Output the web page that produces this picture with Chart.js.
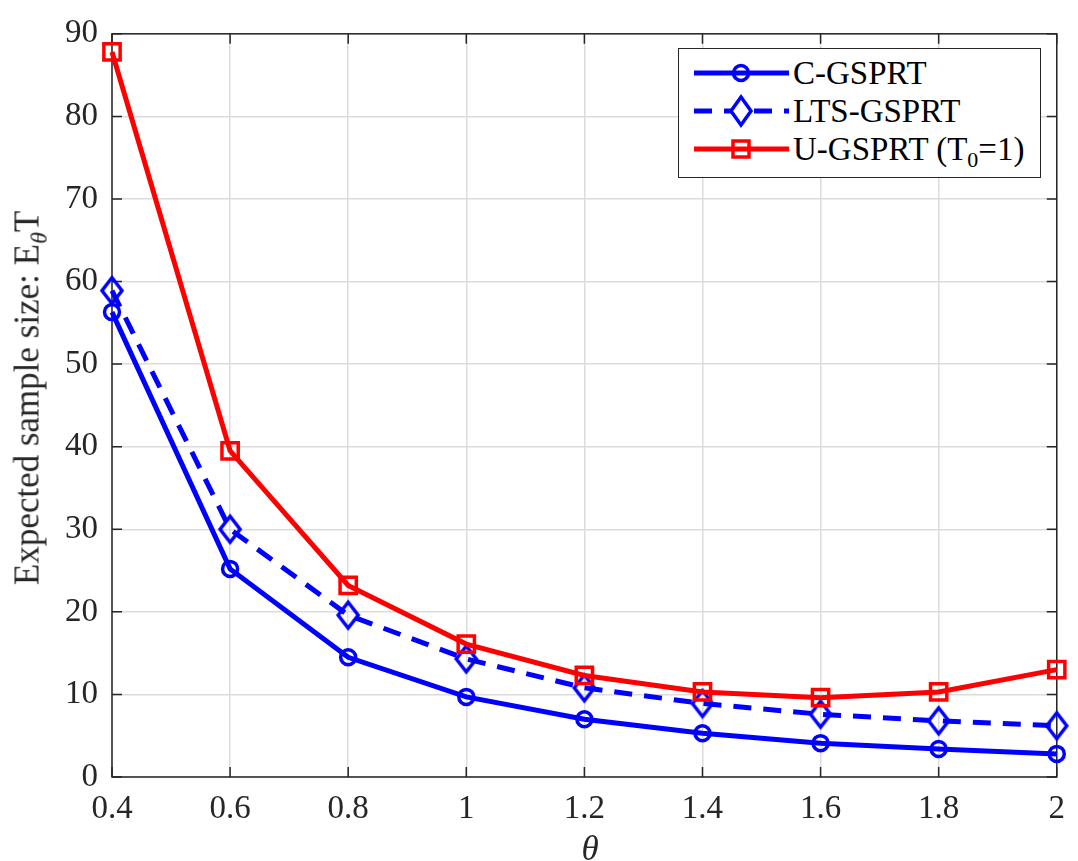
<!DOCTYPE html>
<html>
<head>
<meta charset="utf-8">
<script src="https://cdn.jsdelivr.net/npm/chart.js@4/dist/chart.umd.min.js"></script>
<style>
  html, body { margin: 0; padding: 0; background: #fff; }
  #wrap { position: relative; width: 1078px; height: 861px; overflow: hidden; font-family: "Liberation Serif", "DejaVu Serif", serif; color: #262626; }
  #c { position: absolute; left: 0; top: 0; }
  #ytitle { position: absolute; left: 27px; top: 398px; transform: translate(-50%, -50%) rotate(-90deg); white-space: nowrap; font-size: 35px; line-height: 1; }
  #ytitle sub { font-size: 24px; font-style: italic; vertical-align: -0.35em; line-height: 0; }
  #xtitle { position: absolute; left: 590px; top: 848px; transform: translate(-50%, -50%); font-size: 35px; font-style: italic; line-height: 1; }
  #legend { position: absolute; left: 678px; top: 48px; width: 361px; height: 128px; border: 1.5px solid #262626; background: #fff; }
  .row { position: absolute; left: 0; height: 36px; width: 361px; }
  .row svg { position: absolute; left: 12px; top: 0; }
  .row span { position: absolute; left: 114px; top: 0; font-size: 33px; line-height: 36px; white-space: nowrap; color: #000; }
  .row sub { font-size: 22px; vertical-align: -0.3em; line-height: 0; }
</style>
</head>
<body>
<div id="wrap">
  <canvas id="c" width="1078" height="861"></canvas>
  <div id="ytitle">Expected sample size: E<sub>θ</sub>T</div>
  <div id="xtitle">θ</div>
  <div id="legend">
    <div class="row" style="top:6px">
      <svg width="100" height="36"><line x1="3" y1="18" x2="98" y2="18" stroke="#0000ff" stroke-width="5"/><circle cx="50" cy="18" r="7.5" fill="none" stroke="#0000ff" stroke-width="3.5"/></svg>
      <span>C-GSPRT</span>
    </div>
    <div class="row" style="top:44px">
      <svg width="100" height="36"><line x1="3" y1="18" x2="98" y2="18" stroke="#0000ff" stroke-width="5" stroke-dasharray="18 12"/><polygon points="50,4 60,18 50,32 40,18" fill="#fff" stroke="#0000ff" stroke-width="3.5"/></svg>
      <span>LTS-GSPRT</span>
    </div>
    <div class="row" style="top:82px">
      <svg width="100" height="36"><line x1="3" y1="18" x2="98" y2="18" stroke="#ff0000" stroke-width="5"/><rect x="42" y="10" width="16" height="16" fill="none" stroke="#ff0000" stroke-width="3.5"/></svg>
      <span>U-GSPRT (T<sub>0</sub>=1)</span>
    </div>
  </div>
</div>
<script>
const thetas = [0.4, 0.6, 0.8, 1.0, 1.2, 1.4, 1.6, 1.8, 2.0];
const cGsprt = [56.3, 25.2, 14.5, 9.7, 7.0, 5.3, 4.1, 3.4, 2.8];
const ltsGsprt = [58.9, 30.0, 19.6, 14.3, 10.8, 8.9, 7.6, 6.8, 6.2];
const uGsprt = [87.8, 39.5, 23.2, 16.1, 12.3, 10.3, 9.6, 10.3, 13.0];
const xTicks = [0.4, 0.6, 0.8, 1.0, 1.2, 1.4, 1.6, 1.8, 2.0];
const xTickLabels = ['0.4', '0.6', '0.8', '1', '1.2', '1.4', '1.6', '1.8', '2'];
const yTicks = [0, 10, 20, 30, 40, 50, 60, 70, 80, 90];

const AXIS = '#262626';
const GRID = '#dcdcdc';
const FONT = '"Liberation Serif", "Times New Roman", serif';

function diamondCanvas(color) {
  const cv = document.createElement('canvas');
  cv.width = 26; cv.height = 32;
  const g = cv.getContext('2d');
  g.strokeStyle = color; g.lineWidth = 3.5; g.lineJoin = 'miter';
  g.beginPath();
  g.moveTo(13, 3); g.lineTo(23, 16); g.lineTo(13, 29); g.lineTo(3, 16); g.closePath();
  g.stroke();
  return cv;
}

const pts = arr => thetas.map((t, i) => ({ x: t, y: arr[i] }));

const boxPlugin = {
  id: 'box',
  beforeDatasetsDraw(chart) {
    const { ctx, chartArea: a, scales } = chart;
    ctx.save();
    ctx.strokeStyle = AXIS;
    ctx.lineWidth = 1.5;
    ctx.strokeRect(a.left, a.top, a.right - a.left, a.bottom - a.top);
    const L = 10;
    ctx.beginPath();
    xTicks.forEach(v => {
      const px = scales.x.getPixelForValue(v);
      ctx.moveTo(px, a.bottom); ctx.lineTo(px, a.bottom - L);
      ctx.moveTo(px, a.top); ctx.lineTo(px, a.top + L);
    });
    yTicks.forEach(v => {
      const py = scales.y.getPixelForValue(v);
      ctx.moveTo(a.left, py); ctx.lineTo(a.left + L, py);
      ctx.moveTo(a.right, py); ctx.lineTo(a.right - L, py);
    });
    ctx.stroke();
    ctx.restore();
  }
};

new Chart(document.getElementById('c'), {
  type: 'line',
  data: {
    datasets: [
      {
        label: 'C-GSPRT', data: pts(cGsprt), borderColor: '#0000ff', borderWidth: 5,
        pointStyle: 'circle', pointRadius: 7.5, pointBorderWidth: 3.5, pointBorderColor: '#0000ff',
        pointBackgroundColor: 'rgba(0,0,0,0)', tension: 0, clip: false, order: 2
      },
      {
        label: 'LTS-GSPRT', data: pts(ltsGsprt), borderColor: '#0000ff', borderWidth: 5, borderDash: [18, 12],
        pointStyle: diamondCanvas('#0000ff'), pointRadius: 12, tension: 0, clip: false, order: 1
      },
      {
        label: 'U-GSPRT (T0=1)', data: pts(uGsprt), borderColor: '#ff0000', borderWidth: 5,
        pointStyle: 'rect', pointRadius: 11.5, pointBorderWidth: 3.5, pointBorderColor: '#ff0000',
        pointBackgroundColor: 'rgba(0,0,0,0)', tension: 0, clip: false, order: 0
      }
    ]
  },
  options: {
    responsive: false,
    animation: false,
    devicePixelRatio: 1,
    layout: { padding: { top: 20, right: 9, left: 0, bottom: 0 } },
    plugins: { legend: { display: false }, tooltip: { enabled: false } },
    events: [],
    scales: {
      x: {
        type: 'linear', min: 0.4, max: 2,
        afterBuildTicks: s => { s.ticks = xTicks.map(v => ({ value: v })); },
        afterFit: s => { s.height = 84; },
        ticks: {
          font: { family: FONT, size: 33 }, color: AXIS, padding: 13,
          callback: (v, i) => xTickLabels[i], maxRotation: 0, autoSkip: false
        },
        grid: { color: GRID, lineWidth: 1.5, drawTicks: false, tickLength: 0 },
        border: { display: false }
      },
      y: {
        type: 'linear', min: 0, max: 90,
        afterBuildTicks: s => { s.ticks = yTicks.map(v => ({ value: v })); },
        afterFit: s => { s.width = 112; },
        ticks: {
          font: { family: FONT, size: 33 }, color: AXIS, padding: 14,
          callback: v => String(v), autoSkip: false
        },
        grid: { color: GRID, lineWidth: 1.5, drawTicks: false, tickLength: 0 },
        border: { display: false }
      }
    }
  },
  plugins: [boxPlugin]
});
</script>
</body>
</html>
